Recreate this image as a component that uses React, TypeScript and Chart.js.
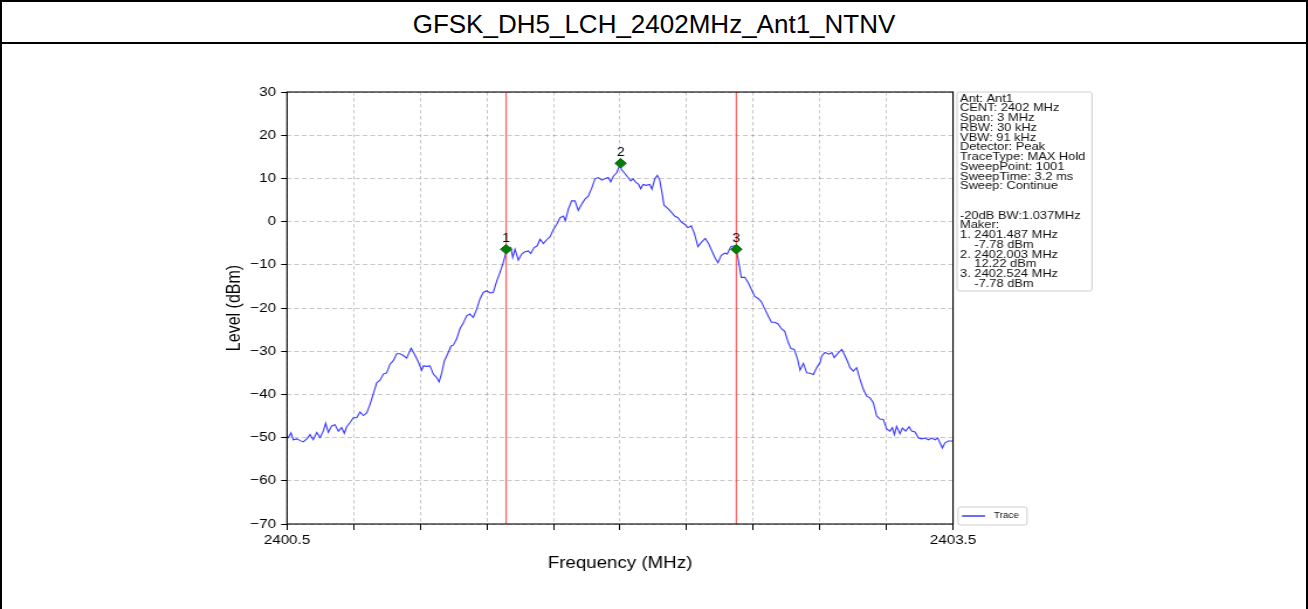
import React, { useEffect, useRef } from 'react';
import { Chart, registerables } from 'chart.js';

Chart.register(...registerables);

// ---------- data ----------
const TITLE = 'GFSK_DH5_LCH_2402MHz_Ant1_NTNV';
const X_TITLE = 'Frequency (MHz)';
const Y_TITLE = 'Level (dBm)';
const X_MIN = 2400.5;
const X_MAX = 2403.5;
const X_STEP = 0.3;
const Y_MIN = -70;
const Y_MAX = 30;
const Y_STEP = 10;

const freqs = [
  2400.5, 2400.506, 2400.518, 2400.528, 2400.544, 2400.559, 2400.573, 2400.589, 2400.604, 2400.618,
  2400.634, 2400.649, 2400.664, 2400.674, 2400.686, 2400.701, 2400.716, 2400.731, 2400.746, 2400.758,
  2400.769, 2400.784, 2400.799, 2400.814, 2400.829, 2400.844, 2400.859, 2400.874, 2400.889, 2400.904,
  2400.919, 2400.934, 2400.949, 2400.964, 2400.979, 2400.994, 2401.009, 2401.024, 2401.039, 2401.059,
  2401.073, 2401.089, 2401.107, 2401.114, 2401.129, 2401.144, 2401.159, 2401.174, 2401.185, 2401.197,
  2401.209, 2401.224, 2401.239, 2401.249, 2401.264, 2401.279, 2401.294, 2401.309, 2401.324, 2401.339,
  2401.355, 2401.369, 2401.384, 2401.4, 2401.414, 2401.429, 2401.445, 2401.459, 2401.474, 2401.486,
  2401.497, 2401.508, 2401.517, 2401.527, 2401.542, 2401.557, 2401.572, 2401.587, 2401.598, 2401.613,
  2401.627, 2401.64, 2401.655, 2401.67, 2401.685, 2401.7, 2401.715, 2401.73, 2401.745, 2401.754,
  2401.767, 2401.782, 2401.797, 2401.812, 2401.827, 2401.842, 2401.857, 2401.873, 2401.887, 2401.902,
  2401.918, 2401.932, 2401.947, 2401.958, 2401.97, 2401.985, 2402.0, 2402.006, 2402.021, 2402.036,
  2402.048, 2402.059, 2402.073, 2402.084, 2402.093, 2402.104, 2402.118, 2402.134, 2402.144, 2402.156,
  2402.168, 2402.179, 2402.189, 2402.198, 2402.216, 2402.231, 2402.246, 2402.261, 2402.276, 2402.291,
  2402.306, 2402.321, 2402.336, 2402.351, 2402.366, 2402.384, 2402.4, 2402.414, 2402.429, 2402.441,
  2402.456, 2402.472, 2402.483, 2402.499, 2402.514, 2402.524, 2402.535, 2402.546, 2402.562, 2402.577,
  2402.591, 2402.607, 2402.622, 2402.636, 2402.652, 2402.667, 2402.682, 2402.697, 2402.712, 2402.727,
  2402.742, 2402.758, 2402.77, 2402.785, 2402.8, 2402.811, 2402.826, 2402.841, 2402.856, 2402.871,
  2402.886, 2402.901, 2402.909, 2402.923, 2402.941, 2402.954, 2402.965, 2402.981, 2402.999, 2403.01,
  2403.026, 2403.036, 2403.051, 2403.066, 2403.081, 2403.096, 2403.111, 2403.126, 2403.141, 2403.156,
  2403.171, 2403.186, 2403.201, 2403.216, 2403.227, 2403.236, 2403.246, 2403.261, 2403.272, 2403.287,
  2403.302, 2403.314, 2403.329, 2403.344, 2403.359, 2403.374, 2403.389, 2403.404, 2403.419, 2403.431,
  2403.441, 2403.452, 2403.464, 2403.479, 2403.494, 2403.5,
];

const levels = [
  -49.8, -50.0, -48.9, -50.5, -50.3, -50.7, -51.0, -50.3, -49.3, -50.5,
  -48.8, -50.0, -48.4, -46.7, -48.8, -47.3, -47.0, -48.5, -47.7, -49.0,
  -47.5, -46.5, -45.4, -45.4, -44.1, -44.9, -44.3, -42.3, -39.8, -37.3,
  -36.7, -35.3, -35.0, -33.0, -32.2, -30.6, -30.6, -31.0, -31.6, -29.3,
  -30.6, -32.2, -34.4, -33.4, -33.5, -33.4, -35.3, -36.1, -37.1, -35.0,
  -32.2, -30.6, -28.8, -28.6, -27.2, -24.8, -23.5, -21.8, -21.4, -22.2,
  -20.2, -17.9, -16.4, -16.0, -16.5, -16.4, -13.7, -11.8, -9.5, -7.2,
  -6.4, -6.0, -8.3, -6.4, -8.9, -7.5, -7.0, -6.8, -7.4, -6.0,
  -5.6, -4.1, -5.1, -4.2, -3.5, -1.8, -0.6, 0.9, 1.3, 0.2,
  2.8, 4.8, 4.8, 2.6, 4.0, 5.2, 5.9, 7.8, 9.9, 10.2,
  9.6, 9.9, 10.2, 9.2, 10.5, 11.3, 13.2, 12.1, 11.2, 10.2,
  9.4, 9.9, 9.0, 8.6, 7.6, 8.6, 8.4, 8.6, 7.5, 9.8,
  10.7, 9.6, 6.7, 3.8, 3.0, 2.2, 1.3, 0.9, -0.1, -0.6,
  -1.4, -1.0, -2.9, -5.8, -4.8, -3.9, -5.2, -6.8, -8.5, -9.5,
  -7.8, -7.3, -7.5, -5.8, -5.6, -6.4, -9.5, -12.9, -12.9, -14.1,
  -15.6, -17.3, -17.8, -18.5, -20.2, -21.8, -23.3, -23.3, -23.7, -24.8,
  -25.4, -28.0, -29.4, -29.6, -31.9, -34.4, -32.8, -35.0, -35.1, -35.4,
  -33.8, -32.7, -31.1, -30.3, -30.7, -30.3, -31.5, -30.5, -29.6, -30.7,
  -32.5, -33.8, -34.6, -33.8, -36.5, -38.8, -40.4, -40.8, -41.9, -45.0,
  -45.7, -45.8, -48.0, -48.5, -47.7, -49.3, -47.4, -49.1, -47.8, -48.5,
  -47.5, -48.5, -48.7, -50.1, -50.3, -50.1, -50.5, -50.1, -50.5, -50.1,
  -51.2, -52.4, -51.2, -50.8, -50.8, -50.8,
];

const markerNames = ['1', '2', '3'];
const markerFreqs = [2401.487, 2402.003, 2402.524];
const markerLevels = [-6.4, 13.5, -6.4];
const bwLineFreqs = [2401.487, 2402.524];

const infoLines = [
  'Ant: Ant1',
  'CENT: 2402 MHz',
  'Span: 3 MHz',
  'RBW: 30 kHz',
  'VBW: 91 kHz',
  'Detector: Peak',
  'TraceType: MAX Hold',
  'SweepPoint: 1001',
  'SweepTime: 3.2 ms',
  'Sweep: Continue',
  '',
  '',
  '-20dB BW:1.037MHz',
  'Maker:',
  '1. 2401.487 MHz',
  '    -7.78 dBm',
  '2. 2402.003 MHz',
  '    12.22 dBm',
  '3. 2402.524 MHz',
  '    -7.78 dBm',
];
const legendLabel = 'Trace';

// ---------- layout ----------
const CSS_W = 1308;
const CSS_H = 609;
const STRETCH = 1.17; // reference figure is stretched horizontally
const INT_W = Math.round(CSS_W / STRETCH);
const px = (cssX: number) => (cssX * INT_W) / CSS_W;

const FONT = '"Liberation Sans", Arial, Helvetica, sans-serif';
const TRACE_COLOR = 'rgba(0, 0, 255, 0.78)';
const RED_COLOR = 'rgba(255, 0, 0, 0.6)';
const GRID_COLOR = 'rgba(0, 0, 0, 0.28)';

const AREA_LEFT = 287;
const AREA_RIGHT = 953;
const AREA_TOP = 92;
const AREA_BOTTOM = 524;
const AXIS_TITLE_SIZE = 16;
const PAD_LEFT = px(235) - (AXIS_TITLE_SIZE * 1.2) / 2;
const Y_BOX_W = px(AREA_LEFT) - PAD_LEFT;
const X_BOX_H = 60;
const PAD_BOTTOM = CSS_H - AREA_BOTTOM - X_BOX_H;

const fmtNum = (v: number) => (v < 0 ? '\u2212' + Math.abs(v) : String(v));

const overlayPlugin = {
  id: 'overlay',
  afterDraw(chart: any) {
    const { ctx, chartArea } = chart;
    const xs = chart.scales.x;
    const ys = chart.scales.y;
    ctx.save();
    // frame
    ctx.strokeStyle = '#000';
    ctx.lineWidth = 1.1;
    ctx.setLineDash([]);
    ctx.strokeRect(chartArea.left, chartArea.top, chartArea.right - chartArea.left, chartArea.bottom - chartArea.top);

    // marker labels
    ctx.fillStyle = '#000';
    ctx.font = `12px ${FONT}`;
    ctx.textAlign = 'center';
    ctx.textBaseline = 'middle';
    markerNames.forEach((n, i) => {
      const x = xs.getPixelForValue(markerFreqs[i]);
      const y = ys.getPixelForValue(markerLevels[i]);
      ctx.fillText(n, x, y - 11);
    });

    // info box
    const bx = px(957);
    const by = 92;
    const bw = px(1092) - px(957);
    const bh = 199;
    ctx.beginPath();
    ctx.roundRect(bx, by, bw, bh, 2);
    ctx.fillStyle = 'rgba(255,255,255,0.85)';
    ctx.fill();
    ctx.strokeStyle = '#cfcfcf';
    ctx.lineWidth = 1;
    ctx.stroke();
    ctx.fillStyle = '#111';
    ctx.font = `11px ${FONT}`;
    ctx.textAlign = 'left';
    ctx.textBaseline = 'middle';
    infoLines.forEach((line, i) => {
      ctx.fillText(line, px(960), 98.5 + i * 9.75);
    });

    // trace legend
    const lx = px(958);
    const ly = 507;
    const lw = px(1027) - px(958);
    const lh = 18;
    ctx.beginPath();
    ctx.roundRect(lx, ly, lw, lh, 2);
    ctx.fillStyle = 'rgba(255,255,255,0.85)';
    ctx.fill();
    ctx.strokeStyle = '#cfcfcf';
    ctx.stroke();
    ctx.beginPath();
    ctx.moveTo(px(962), ly + lh / 2);
    ctx.lineTo(px(985), ly + lh / 2);
    ctx.strokeStyle = TRACE_COLOR;
    ctx.lineWidth = 1.5;
    ctx.stroke();
    ctx.fillStyle = '#111';
    ctx.font = `8.5px ${FONT}`;
    ctx.fillText(legendLabel, px(994), ly + lh / 2);
    ctx.restore();
  },
};

export default function App() {
  const ref = useRef<HTMLCanvasElement | null>(null);

  useEffect(() => {
    const canvas = ref.current;
    if (!canvas) return;
    const chart = new Chart(canvas, {
      type: 'line',
      data: {
        datasets: [
          {
            label: 'markers',
            data: markerFreqs.map((f, i) => ({ x: f, y: markerLevels[i] })),
            showLine: false,
            pointStyle: 'rectRot',
            pointRadius: 4.8,
            pointBackgroundColor: '#008000',
            pointBorderColor: '#006400',
            pointBorderWidth: 1,
            order: 0,
          },
          ...bwLineFreqs.map((f) => ({
            label: 'bw',
            data: [
              { x: f, y: Y_MIN },
              { x: f, y: Y_MAX },
            ],
            borderColor: RED_COLOR,
            borderWidth: 1.3,
            pointRadius: 0,
            order: 1,
          })),
          {
            label: legendLabel,
            data: freqs.map((f, i) => ({ x: f, y: levels[i] })),
            borderColor: TRACE_COLOR,
            borderWidth: 1.1,
            pointRadius: 0,
            tension: 0,
            order: 2,
          },
        ] as any,
      },
      options: {
        animation: false,
        responsive: false,
        maintainAspectRatio: false,
        devicePixelRatio: 1,
        events: [],
        layout: {
          padding: { left: PAD_LEFT, right: INT_W - px(AREA_RIGHT), top: AREA_TOP, bottom: PAD_BOTTOM },
        },
        plugins: {
          legend: { display: false },
          tooltip: { enabled: false },
          title: { display: false },
        },
        scales: {
          x: {
            type: 'linear',
            min: X_MIN,
            max: X_MAX,
            afterFit: (s: any) => {
              s.height = X_BOX_H;
            },
            ticks: {
              stepSize: X_STEP,
              autoSkip: false,
              maxRotation: 0,
              padding: 3,
              color: '#000',
              font: { family: FONT, size: 13 },
              callback: (v: any, i: number, ticks: any[]) =>
                i === 0 || i === ticks.length - 1 ? Number(v).toFixed(1) : '',
            },
            grid: {
              color: GRID_COLOR,
              lineWidth: 0.8,
              tickLength: 6,
              tickColor: '#000',
              tickWidth: 1,
            },
            border: { display: false, dash: [3.5, 2.5] },
            title: {
              display: true,
              text: X_TITLE,
              color: '#000',
              font: { family: FONT, size: AXIS_TITLE_SIZE, weight: 'normal' },
              padding: { top: 0, bottom: 10.6 },
            },
          },
          y: {
            type: 'linear',
            min: Y_MIN,
            max: Y_MAX,
            afterFit: (s: any) => {
              s.width = Y_BOX_W;
            },
            ticks: {
              stepSize: Y_STEP,
              padding: 4.4,
              color: '#000',
              font: { family: FONT, size: 13 },
              callback: (v: any) => fmtNum(Number(v)),
            },
            grid: {
              color: GRID_COLOR,
              lineWidth: 0.8,
              tickLength: 5,
              tickColor: '#000',
              tickWidth: 1,
            },
            border: { display: false, dash: [4, 2.5] },
            title: {
              display: true,
              text: Y_TITLE,
              color: '#000',
              font: { family: FONT, size: AXIS_TITLE_SIZE, weight: 'normal' },
              padding: { top: 0, bottom: 0 },
            },
          },
        },
      } as any,
      plugins: [overlayPlugin],
    });
    return () => chart.destroy();
  }, []);

  return (
    <div
      style={{
        position: 'absolute',
        left: 0,
        top: 0,
        width: CSS_W,
        height: CSS_H,
        background: '#fff',
        overflow: 'hidden',
      }}
    >
      <div
        style={{
          position: 'absolute',
          left: 0,
          top: 0,
          width: CSS_W,
          height: CSS_H,
          boxSizing: 'border-box',
          borderTop: '2px solid #000',
          borderLeft: '2px solid #000',
          borderRight: '2px solid #000',
        }}
      />
      <div
        style={{
          position: 'absolute',
          left: 0,
          top: 0,
          width: CSS_W,
          height: 44,
          boxSizing: 'border-box',
          borderBottom: '2px solid #000',
          textAlign: 'center',
          fontFamily: FONT,
          fontSize: 26,
          lineHeight: '48px',
          color: '#000',
        }}
      >
        {TITLE}
      </div>
      <canvas
        ref={ref}
        width={INT_W}
        height={CSS_H}
        style={{ position: 'absolute', left: 0, top: 0, width: CSS_W + 'px', height: CSS_H + 'px' }}
      />
    </div>
  );
}
